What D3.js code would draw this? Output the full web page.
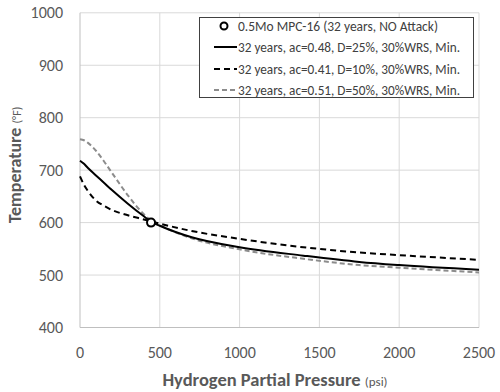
<!DOCTYPE html>
<html><head><meta charset="utf-8">
<script src="https://cdn.jsdelivr.net/npm/d3@7"></script>
<style>body{margin:0;background:#fff}svg{display:block}</style>
</head><body><svg id="c" width="500" height="392"></svg>
<script>
const pressure = [0, 25, 50, 100, 150, 200, 300, 400, 450, 500, 700, 1000, 1400, 1750, 2000, 2500];
const tempD25 = [718, 712, 704, 690, 676, 662, 636, 612, 601, 594, 572, 553, 537, 525, 519, 510];
const tempD10 = [688, 672, 660, 642, 632, 624, 614, 606, 602, 598, 584, 569, 553, 543, 538, 529];
const tempD50 = [759, 757, 752, 737, 717, 695, 652, 616, 603, 595, 570, 549, 531, 519, 514, 505];
const mpcPoint = [445, 600];
const xTicks = [0, 500, 1000, 1500, 2000, 2500];
const yTicks = [400, 500, 600, 700, 800, 900, 1000];
const legendLabels = ["0.5Mo MPC-16 (32 years, NO Attack)", "32 years, ac=0.48, D=25%, 30%WRS, Min.", "32 years, ac=0.41, D=10%, 30%WRS, Min.", "32 years, ac=0.51, D=50%, 30%WRS, Min."];

const svg = d3.select("#c");
const font = "Carlito, 'Liberation Sans', Arial, sans-serif";
const x = d3.scaleLinear().domain([0, 2500]).range([80, 479]);
const y = d3.scaleLinear().domain([400, 1000]).range([327.5, 12.8]);

svg.append("g").selectAll("line").data(yTicks).join("line")
  .attr("x1", 80).attr("x2", 479).attr("y1", d => y(d)).attr("y2", d => y(d))
  .attr("stroke", "#d9d9d9").attr("stroke-width", 1);
svg.append("g").selectAll("line").data(xTicks.slice(1)).join("line")
  .attr("x1", d => x(d)).attr("x2", d => x(d)).attr("y1", y(1000)).attr("y2", y(400))
  .attr("stroke", "#d9d9d9").attr("stroke-width", 1);
svg.append("line").attr("x1", 80).attr("x2", 80).attr("y1", y(1000)).attr("y2", y(400)).attr("stroke", "#bfbfbf");
svg.append("line").attr("x1", 80).attr("x2", 479).attr("y1", y(400)).attr("y2", y(400)).attr("stroke", "#bfbfbf");

svg.append("g").selectAll("text").data(yTicks).join("text")
  .attr("x", 63).attr("y", d => y(d)).attr("dy", "0.35em").attr("text-anchor", "end")
  .attr("font-family", font).attr("font-size", 16).attr("fill", "#595959").text(d => d);
svg.append("g").selectAll("text").data(xTicks).join("text")
  .attr("x", d => x(d)).attr("y", 352).attr("dy", "0.35em").attr("text-anchor", "middle")
  .attr("font-family", font).attr("font-size", 16).attr("fill", "#595959").text(d => d);

const xt = svg.append("text").attr("x", 275).attr("y", 386).attr("text-anchor", "middle")
  .attr("font-family", font).attr("fill", "#595959");
xt.append("tspan").attr("font-size", 18.5).attr("font-weight", "bold").text("Hydrogen Partial Pressure ");
xt.append("tspan").attr("font-size", 13).text("(psi)");
const yt = svg.append("text").attr("transform", "translate(21,165) rotate(-90)").attr("text-anchor", "middle")
  .attr("font-family", font).attr("fill", "#595959");
yt.append("tspan").attr("font-size", 18).attr("font-weight", "bold").text("Temperature ");
yt.append("tspan").attr("font-size", 12).text("(°F)");

const line = vals => d3.line().x((d, i) => x(pressure[i])).y(d => y(d)).curve(d3.curveMonotoneX)(vals);
svg.append("path").attr("d", line(tempD50)).attr("fill", "none").attr("stroke", "#8c8c8c").attr("stroke-width", 2).attr("stroke-dasharray", "5,3");
svg.append("path").attr("d", line(tempD10)).attr("fill", "none").attr("stroke", "#000").attr("stroke-width", 2).attr("stroke-dasharray", "6,4");
svg.append("path").attr("d", line(tempD25)).attr("fill", "none").attr("stroke", "#000").attr("stroke-width", 2);
svg.append("circle").attr("cx", x(mpcPoint[0])).attr("cy", y(mpcPoint[1])).attr("r", 4)
  .attr("fill", "#fff").attr("stroke", "#000").attr("stroke-width", 2);

const lg = svg.append("g");
lg.append("rect").attr("x", 199.5).attr("y", 17.5).attr("width", 274).attr("height", 80)
  .attr("fill", "#fff").attr("stroke", "#404040").attr("stroke-width", 1);
const rowsY = [26, 47, 69, 90];
lg.append("circle").attr("cx", 224).attr("cy", rowsY[0]).attr("r", 3.5).attr("fill", "#fff").attr("stroke", "#000").attr("stroke-width", 2);
const styles = [null, {c: "#000", d: null}, {c: "#000", d: "6,4"}, {c: "#8c8c8c", d: "5,3"}];
for (let i = 1; i < 4; i++) {
  lg.append("line").attr("x1", 214).attr("x2", 237).attr("y1", rowsY[i]).attr("y2", rowsY[i])
    .attr("stroke", styles[i].c).attr("stroke-width", 2).attr("stroke-dasharray", styles[i].d);
}
const widths = [200, 222, 222, 222];
legendLabels.forEach((t, i) => {
  lg.append("text").attr("x", 238).attr("y", rowsY[i]).attr("dy", "0.35em")
    .attr("font-family", font).attr("font-size", 14).attr("fill", "#404040")
    .attr("textLength", widths[i]).attr("lengthAdjust", "spacingAndGlyphs").text(t);
});
</script></body></html>
